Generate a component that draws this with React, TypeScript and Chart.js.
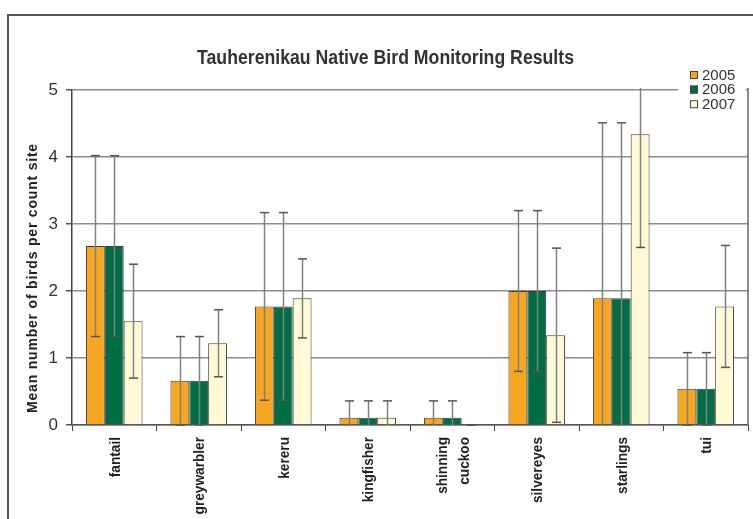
import React, { useEffect, useRef } from "react";
import { Chart, registerables } from "chart.js";

Chart.register(...registerables);

const TITLE = "Tauherenikau Native Bird Monitoring Results";
const Y_TITLE = "Mean number of birds per count site";
const CATEGORIES: (string | string[])[] = [
  "fantail",
  "greywarbler",
  "kereru",
  "kingfisher",
  ["shinning", "cuckoo"],
  "silvereyes",
  "starlings",
  "tui",
];
const SERIES_NAMES = ["2005", "2006", "2007"];
const VALUES_2005 = [2.67, 0.66, 1.77, 0.11, 0.11, 2.0, 1.89, 0.54];
const VALUES_2006 = [2.67, 0.66, 1.77, 0.11, 0.11, 2.0, 1.89, 0.54];
const VALUES_2007 = [1.55, 1.22, 1.89, 0.11, 0, 1.34, 4.34, 1.77];
const ERRORS_2005 = [1.35, 0.66, 1.4, 0.25, 0.25, 1.2, 2.62, 0.54];
const ERRORS_2006 = [1.35, 0.66, 1.4, 0.25, 0.25, 1.2, 2.62, 0.54];
const ERRORS_2007 = [0.85, 0.5, 0.59, 0.25, 0, 1.3, 1.69, 0.91];
const Y_MIN = 0;
const Y_MAX = 5;
const Y_STEP = 1;

const COLORS = ["#F6A61F", "#016D45", "#FFF9D6"];
const ERRORS = [ERRORS_2005, ERRORS_2006, ERRORS_2007];

const FONT = "'Liberation Sans', Arial, sans-serif";

function condensedText(ctx: CanvasRenderingContext2D, text: string, x: number, y: number, targetScale: number) {
  ctx.save();
  ctx.translate(x, y);
  ctx.scale(targetScale, 1);
  ctx.fillText(text, 0, 0);
  ctx.restore();
}

const decorPlugin = {
  id: "decor",
  beforeDraw(chart: any) {
    const ctx = chart.ctx;
    ctx.save();
    ctx.fillStyle = "#ffffff";
    ctx.fillRect(0, 0, chart.width, chart.height);
    ctx.strokeStyle = "#555555";
    ctx.lineWidth = 2;
    ctx.beginPath();
    ctx.moveTo(8, chart.height);
    ctx.lineTo(8, 15);
    ctx.lineTo(chart.width, 15);
    ctx.stroke();
    ctx.restore();
  },
  afterDatasetsDraw(chart: any) {
    const ctx = chart.ctx;
    const area = chart.chartArea;
    const yScale = chart.scales.y;
    ctx.save();
    chart.data.datasets.forEach((ds: any, di: number) => {
      const meta = chart.getDatasetMeta(di);
      const errs = ERRORS[di];
      meta.data.forEach((bar: any, i: number) => {
        const v = ds.data[i];
        const e = errs[i];
        const hi = v + e;
        const lo = v - e;
        const yHi = yScale.getPixelForValue(Math.min(hi, Y_MAX));
        const yLo = yScale.getPixelForValue(Math.max(lo, Y_MIN));
        const x = Math.round(bar.x) + 0.5;
        ctx.strokeStyle = "#808080";
        ctx.lineWidth = 1.5;
        ctx.beginPath();
        ctx.moveTo(x, hi > Y_MAX ? area.top - 2 : yHi);
        ctx.lineTo(x, yLo);
        ctx.stroke();
        ctx.strokeStyle = "#555555";
        const cw = 4.5;
        if (hi <= Y_MAX + 1e-9) {
          ctx.beginPath();
          ctx.moveTo(x - cw, yHi);
          ctx.lineTo(x + cw, yHi);
          ctx.stroke();
        }
        if (lo >= Y_MIN - 1e-9) {
          ctx.beginPath();
          ctx.moveTo(x - cw, yLo);
          ctx.lineTo(x + cw, yLo);
          ctx.stroke();
        }
      });
    });
    ctx.restore();
  },
  afterDraw(chart: any) {
    const ctx = chart.ctx;
    const area = chart.chartArea;
    const xScale = chart.scales.x;
    ctx.save();
    // right border of plot area
    ctx.strokeStyle = "#666666";
    ctx.lineWidth = 1.5;
    ctx.beginPath();
    ctx.moveTo(area.right, area.top - 2);
    ctx.lineTo(area.right, area.bottom);
    ctx.stroke();

    // title (condensed to mimic a narrow face)
    ctx.fillStyle = "#333333";
    ctx.font = `bold 20px ${FONT}`;
    ctx.textAlign = "left";
    ctx.textBaseline = "alphabetic";
    const tw = ctx.measureText(TITLE).width;
    condensedText(ctx, TITLE, 197, 64, 377 / tw);

    // y title
    ctx.save();
    ctx.translate(37, 278);
    ctx.rotate(-Math.PI / 2);
    ctx.font = `bold 14px ${FONT}`;
    (ctx as any).letterSpacing = "0.8px";
    ctx.fillStyle = "#222222";
    ctx.textAlign = "center";
    ctx.textBaseline = "alphabetic";
    ctx.fillText(Y_TITLE, 0, 0);
    (ctx as any).letterSpacing = "0px";
    ctx.restore();

    // x category labels (rotated, condensed)
    ctx.font = `bold 15px ${FONT}`;
    ctx.fillStyle = "#222222";
    ctx.textAlign = "right";
    ctx.textBaseline = "middle";
    CATEGORIES.forEach((cat, i) => {
      const lines = Array.isArray(cat) ? cat : [cat];
      const cx = xScale.getPixelForValue(i);
      const lineGap = 22;
      lines.forEach((line, li) => {
        const lx = cx + 1.5 + (li - (lines.length - 1) / 2) * lineGap;
        ctx.save();
        ctx.translate(lx, 437);
        ctx.rotate(-Math.PI / 2);
        ctx.scale(0.91, 1);
        ctx.fillText(line, 0, 0);
        ctx.restore();
      });
    });

    // legend
    ctx.fillStyle = "#ffffff";
    ctx.fillRect(678, 64, 68, 48);
    SERIES_NAMES.forEach((name, i) => {
      const cy = 75 + i * 14.6;
      ctx.fillStyle = COLORS[i];
      ctx.fillRect(690, cy - 4, 8, 8);
      ctx.strokeStyle = "#444444";
      ctx.lineWidth = 1;
      ctx.strokeRect(690.5, cy - 3.5, 7, 7);
      ctx.fillStyle = "#333333";
      ctx.font = `15px ${FONT}`;
      ctx.textAlign = "left";
      ctx.textBaseline = "middle";
      ctx.fillText(name, 702, cy + 0.5);
    });
    ctx.restore();
  },
};

export default function App() {
  const ref = useRef<HTMLCanvasElement | null>(null);
  useEffect(() => {
    document.body.style.margin = "0";
    const canvas = ref.current!;
    const chart = new Chart(canvas, {
      type: "bar",
      data: {
        labels: CATEGORIES as any,
        datasets: [VALUES_2005, VALUES_2006, VALUES_2007].map((vals, i) => ({
          label: SERIES_NAMES[i],
          data: vals,
          backgroundColor: COLORS[i],
          borderColor: "#3c3c3c",
          borderWidth: 1,
          barPercentage: 1,
          categoryPercentage: 0.67,
        })),
      },
      options: {
        animation: false,
        responsive: false,
        devicePixelRatio: 1,
        layout: { padding: { top: 90, right: 5, left: 0, bottom: 0 } },
        plugins: {
          legend: { display: false },
          title: { display: false },
          tooltip: { enabled: false },
        },
        scales: {
          y: {
            min: Y_MIN,
            max: Y_MAX,
            ticks: {
              stepSize: Y_STEP,
              font: { family: FONT, size: 17 },
              color: "#333333",
              padding: 8,
            },
            grid: {
              color: "#8c8c8c",
              lineWidth: 1.5,
              tickLength: 6,
              tickColor: "#555555",
            },
            border: { color: "#444444", width: 1.5 },
            afterFit(s: any) {
              s.width = 72;
            },
          },
          x: {
            grid: {
              display: true,
              drawOnChartArea: false,
              offset: true,
              tickLength: 6,
              tickColor: "#444444",
              lineWidth: 1,
            },
            border: { color: "#555555", width: 1.5 },
            ticks: { display: false, autoSkip: false },
            afterFit(s: any) {
              s.height = 94;
            },
          },
        },
      },
      plugins: [decorPlugin],
    } as any);
    return () => chart.destroy();
  }, []);
  return (
    <div style={{ width: 753, height: 519, position: "relative" }}>
      <canvas ref={ref} width={753} height={519} />
    </div>
  );
}
